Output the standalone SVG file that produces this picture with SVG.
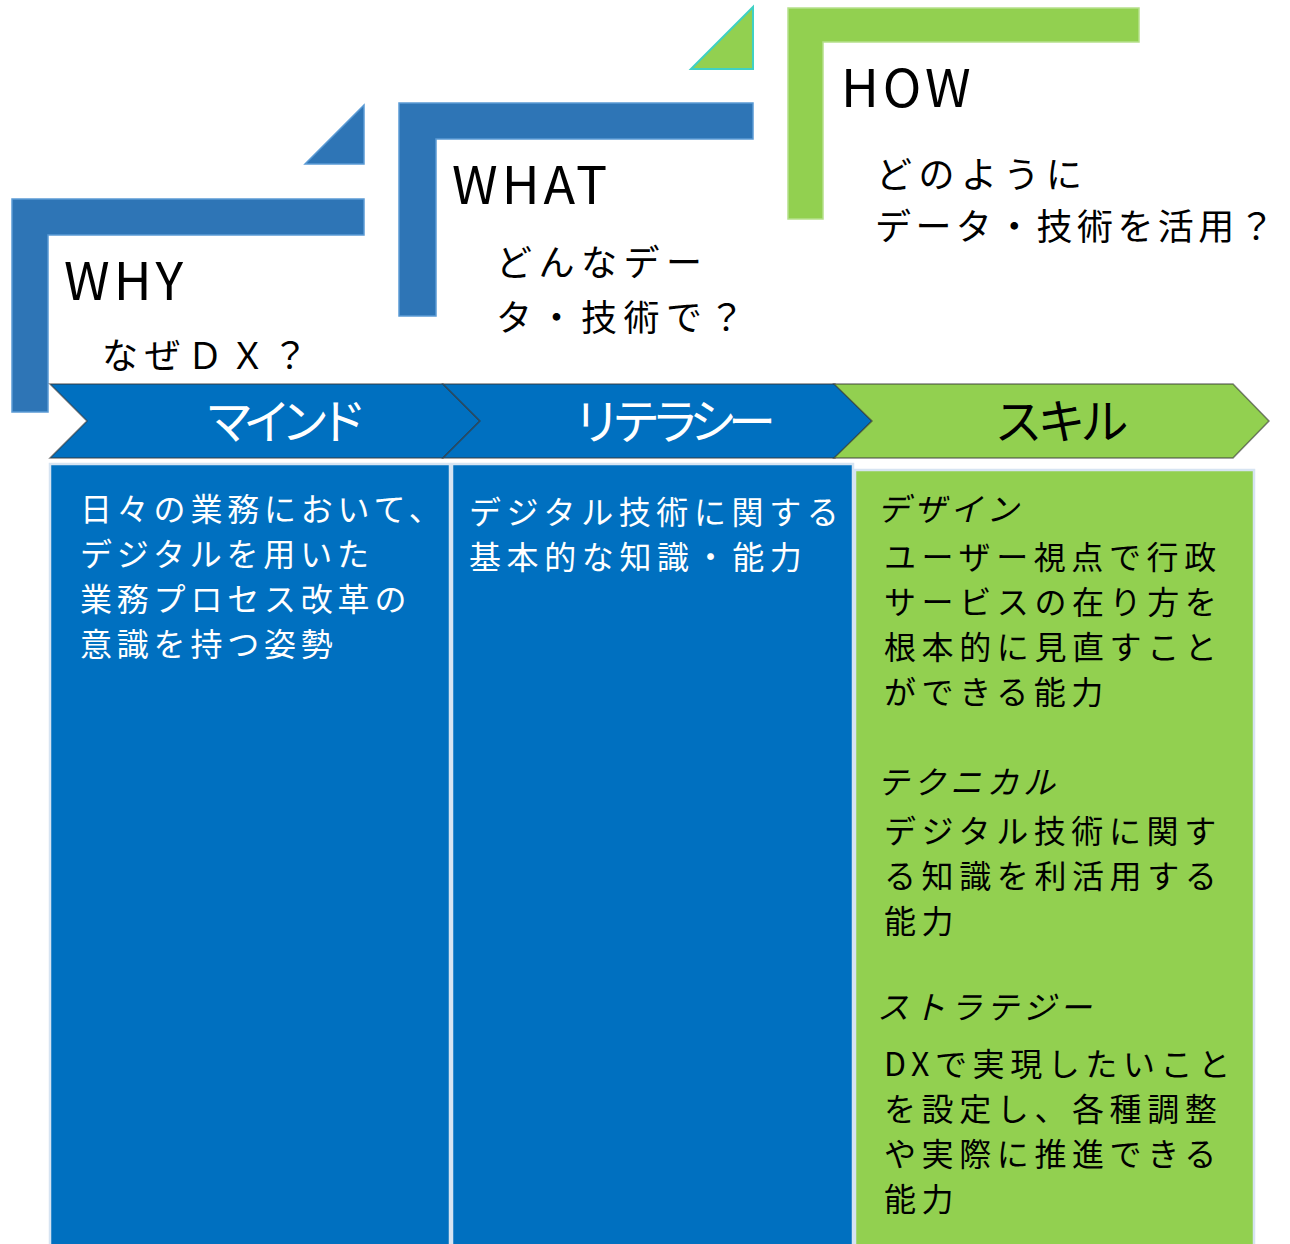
<svg xmlns="http://www.w3.org/2000/svg" width="1290" height="1244" viewBox="0 0 1290 1244">
<style>
.jp{font-family:"Noto Sans CJK JP","Noto Sans",sans-serif;}
.lblue{fill:#2E75B6;stroke:#5B9BD5;stroke-width:1.5;}
.lgreen{fill:#92D050;stroke:#B5E08A;stroke-width:1.5;}
.chev{stroke:#333333;stroke-opacity:0.6;stroke-width:1.5;}
.box{stroke:#D6E4F2;stroke-width:2.5;}
.head{font-size:52px;fill:#000;letter-spacing:4px;}
.sub{font-size:36px;fill:#000;letter-spacing:6.5px;}
.ctitle{font-size:48px;text-anchor:middle;}
.body{font-size:32px;letter-spacing:4.8px;}
.body2{font-size:32px;letter-spacing:5.6px;}
.cat{font-size:32px;font-style:italic;letter-spacing:4.5px;}
</style>
<rect width="1290" height="1244" fill="#FFFFFF"/>

<g id="why">
<polygon class="lblue" points="305,164 364,105 364,164"/>
<polygon class="lblue" points="12,199 364,199 364,235 48,235 48,412 12,412"/>
<text class="jp head" x="64" y="300">WHY</text>
<text class="jp sub" x="102" y="369">なぜＤＸ？</text>
</g>

<g id="what">
<polygon fill="#92D050" stroke="#3FD1C4" stroke-width="2" points="691,69 753,7 753,69"/>
<polygon class="lblue" points="399,103 753,103 753,139 436,139 436,316 399,316"/>
<text class="jp head" x="452" y="204">WHAT</text>
<text class="jp sub" x="496" y="276">どんなデー</text>
<text class="jp sub" x="496" y="331">タ・技術で？</text>
</g>

<g id="how">
<polygon class="lgreen" points="788,8 1139,8 1139,42 823,42 823,219 788,219"/>
<text class="jp head" x="841" y="107">HOW</text>
<text class="jp sub" x="876" y="188">どのように</text>
<text class="jp sub" x="875" y="240" style="letter-spacing:4.4px">データ・技術を活用？</text>
</g>

<g id="connectors"></g>

<g id="chevron-mind">
<polygon class="chev" fill="#0070C0" points="50,384 443,384 480,421 443,458 50,458 87,421"/>
<text class="jp ctitle" x="281" y="439" fill="#FFFFFF" letter-spacing="-10">マインド</text>
</g>
<g id="chevron-literacy">
<polygon class="chev" fill="#0070C0" points="443,384 835,384 872,421 835,458 443,458 480,421"/>
<text class="jp ctitle" x="670" y="439" fill="#FFFFFF" letter-spacing="-9">リテラシー</text>
</g>
<g id="chevron-skill">
<polygon class="chev" fill="#92D050" points="834,384 1233,384 1269,421 1233,458 834,458 872,421"/>
<text class="jp ctitle" x="1059" y="439" fill="#000000" letter-spacing="-5">スキル</text>
</g>

<g id="box-mind">
<rect class="box" x="50" y="464" width="400" height="800" fill="#0070C0"/>
<g class="jp body" fill="#FFFFFF">
<text x="80" y="521">日々の業務において、</text>
<text x="80" y="566">デジタルを用いた</text>
<text x="80" y="611">業務プロセス改革の</text>
<text x="80" y="656">意識を持つ姿勢</text>
</g>
</g>

<g id="box-literacy">
<rect class="box" x="452" y="464" width="401" height="800" fill="#0070C0"/>
<g class="jp body2" fill="#FFFFFF">
<text x="469" y="524">デジタル技術に関する</text>
<text x="469" y="569">基本的な知識・能力</text>
</g>
</g>

<g id="box-skill">
<rect class="box" x="855" y="470" width="399" height="800" fill="#92D050"/>
<g class="jp" fill="#000000">
<text class="cat" x="877" y="521">デザイン</text>
<text class="body2" x="884" y="569">ユーザー視点で行政</text>
<text class="body2" x="884" y="614">サービスの在り方を</text>
<text class="body2" x="884" y="659">根本的に見直すこと</text>
<text class="body2" x="884" y="704">ができる能力</text>
<text class="cat" x="877" y="794">テクニカル</text>
<text class="body2" x="884" y="843">デジタル技術に関す</text>
<text class="body2" x="884" y="888">る知識を利活用する</text>
<text class="body2" x="884" y="933">能力</text>
<text class="cat" x="877" y="1019">ストラテジー</text>
<text class="body2" x="884" y="1076">DXで実現したいこと</text>
<text class="body2" x="884" y="1121">を設定し、各種調整</text>
<text class="body2" x="884" y="1166">や実際に推進できる</text>
<text class="body2" x="884" y="1211">能力</text>
</g>
</g>
</svg>
